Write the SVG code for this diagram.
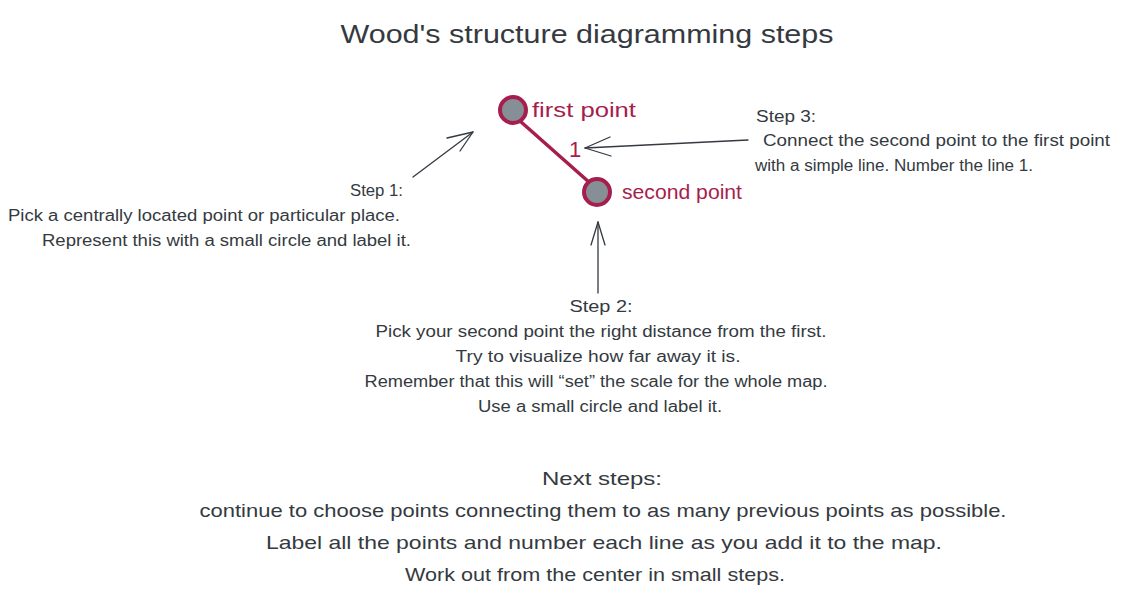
<svg xmlns="http://www.w3.org/2000/svg" width="1130" height="600" viewBox="0 0 1130 600">
<defs>
<style>
.t{font-family:"Liberation Sans","DejaVu Sans",sans-serif;fill:#343a40}
.s16{font-size:16px}
.s20{font-size:19px}
.red{fill:#a61e4d;font-family:"Liberation Sans","DejaVu Sans",sans-serif}
.arr{stroke:#343a40;stroke-width:1.3;fill:none;stroke-linecap:round}
.pt{fill:#868e96;stroke:#a61e4d;stroke-width:4}
</style>
</defs>
<rect width="1130" height="600" fill="#ffffff"/>
<text class="t" x="587" y="43" font-size="26" text-anchor="middle" textLength="493" lengthAdjust="spacingAndGlyphs">Wood's structure diagramming steps</text>

<g id="connectors">
<line x1="520" y1="121" x2="590" y2="183" stroke="#a61e4d" stroke-width="3.5"/>
<g id="arrow-step1" class="arr"><path d="M413 177 L473 132"/><path d="M473 132 L447 138 M473 132 L460 151"/></g>
<g id="arrow-step3" class="arr"><path d="M748 140 L585 148"/><path d="M585 148 L610 137 M585 148 L611 156"/></g>
<g id="arrow-step2" class="arr"><path d="M598 293 L598 222"/><path d="M598 222 L591 245 M598 222 L605 245"/></g>
</g>

<g id="first-point">
<circle class="pt" cx="513" cy="110" r="13"/>
<text class="red" x="532" y="117" font-size="20" textLength="104" lengthAdjust="spacingAndGlyphs">first point</text>
</g>
<g id="line-label">
<text class="red" x="569" y="157" font-size="22">1</text>
</g>
<g id="second-point">
<circle class="pt" cx="597" cy="192" r="13"/>
<text class="red" x="622" y="199" font-size="20" textLength="120" lengthAdjust="spacingAndGlyphs">second point</text>
</g>

<g id="step1">
<text class="t s16" x="350" y="196" textLength="53" lengthAdjust="spacingAndGlyphs">Step 1:</text>
<text class="t s16" x="8" y="221" textLength="392" lengthAdjust="spacingAndGlyphs">Pick a centrally located point or particular place.</text>
<text class="t s16" x="42" y="246" textLength="369" lengthAdjust="spacingAndGlyphs">Represent this with a small circle and label it.</text>
</g>

<g id="step3">
<text class="t s16" x="756" y="122" textLength="60" lengthAdjust="spacingAndGlyphs">Step 3:</text>
<text class="t s16" x="763" y="146" textLength="347" lengthAdjust="spacingAndGlyphs">Connect the second point to the first point</text>
<text class="t s16" x="755" y="171" textLength="278" lengthAdjust="spacingAndGlyphs">with a simple line. Number the line 1.</text>
</g>

<g id="step2">
<text class="t s16" x="601" y="312" text-anchor="middle" textLength="63" lengthAdjust="spacingAndGlyphs">Step 2:</text>
<text class="t s16" x="601" y="337" text-anchor="middle" textLength="451" lengthAdjust="spacingAndGlyphs">Pick your second point the right distance from the first.</text>
<text class="t s16" x="598" y="362" text-anchor="middle" textLength="285" lengthAdjust="spacingAndGlyphs">Try to visualize how far away it is.</text>
<text class="t s16" x="596" y="387" text-anchor="middle" textLength="463" lengthAdjust="spacingAndGlyphs">Remember that this will “set” the scale for the whole map.</text>
<text class="t s16" x="600" y="412" text-anchor="middle" textLength="244" lengthAdjust="spacingAndGlyphs">Use a small circle and label it.</text>
</g>

<g id="next-steps">
<text class="t s20" x="602" y="485" text-anchor="middle" textLength="120" lengthAdjust="spacingAndGlyphs">Next steps:</text>
<text class="t s20" x="603" y="517" text-anchor="middle" textLength="807" lengthAdjust="spacingAndGlyphs">continue to choose points connecting them to as many previous points as possible.</text>
<text class="t s20" x="604" y="549" text-anchor="middle" textLength="676" lengthAdjust="spacingAndGlyphs">Label all the points and number each line as you add it to the map.</text>
<text class="t s20" x="595" y="581" text-anchor="middle" textLength="380" lengthAdjust="spacingAndGlyphs">Work out from the center in small steps.</text>
</g>
</svg>
